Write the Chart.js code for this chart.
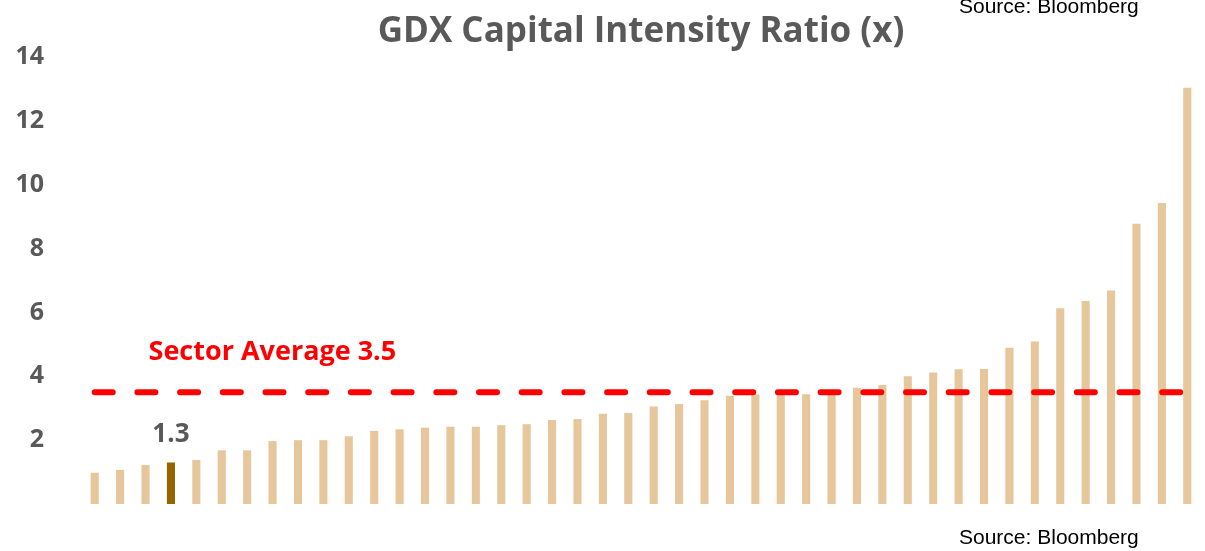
<!DOCTYPE html>
<html>
<head>
<meta charset="utf-8">
<script src="https://cdn.jsdelivr.net/npm/chart.js@4"></script>
<style>
  html, body { margin: 0; padding: 0; background: #fff; }
  #wrap { width: 1205px; height: 551px; position: relative; }
</style>
</head>
<body>
<div id="wrap"><canvas id="gdx-chart"></canvas></div>
<script>
// GDX members ranked by capital intensity ratio (x)
const ratios = [0.98, 1.07, 1.22, 1.3, 1.38, 1.68, 1.68, 1.97, 2.0, 2.0, 2.12, 2.29, 2.34, 2.39, 2.42,
  2.42, 2.47, 2.5, 2.63, 2.66, 2.83, 2.85, 3.05, 3.13, 3.25, 3.39, 3.43, 3.44, 3.44, 3.5,
  3.64, 3.73, 4.0, 4.12, 4.22, 4.23, 4.89, 5.09, 6.13, 6.36, 6.69, 8.78, 9.43, 13.04];
const ranks = ratios.map((_, i) => String(i + 1));
const highlightIndex = 3; // the company called out (1.3)
const sectorAvg = 3.5;
const yMax = 14;
const yStep = 2;

const barColor = "#E6C79C";
const highlightColor = "#956500";
const greyText = "#595959";

// dashed sector average line + annotations
const annotations = {
  id: "annotations",
  afterDatasetsDraw(chart) {
    const { ctx, scales } = chart;
    const x = scales.x, y = scales.y;
    const yAvg = y.getPixelForValue(sectorAvg);

    ctx.save();
    ctx.strokeStyle = "#FF0000";
    ctx.lineWidth = 6;
    ctx.lineCap = "round";
    ctx.setLineDash([18, 24.7]);
    ctx.beginPath();
    ctx.moveTo(x.getPixelForValue(0), yAvg);
    ctx.lineTo(x.getPixelForValue(ratios.length - 1), yAvg);
    ctx.stroke();
    ctx.setLineDash([]);

    ctx.fillStyle = "#FF0000";
    ctx.font = "bold 27px 'Open Sans'";
    ctx.textAlign = "left";
    ctx.textBaseline = "alphabetic";
    ctx.fillText("Sector Average " + sectorAvg.toFixed(1), x.getPixelForValue(2) + 3, y.getPixelForValue(4.5));

    // value label over highlighted bar
    ctx.fillStyle = greyText;
    ctx.font = "bold 26px 'Open Sans'";
    ctx.textAlign = "center";
    ctx.fillText(ratios[highlightIndex].toFixed(1), x.getPixelForValue(highlightIndex), y.getPixelForValue(ratios[highlightIndex]) - 20);

    ctx.fillStyle = "#000";
    ctx.font = "21px 'Liberation Sans'";
    ctx.textAlign = "left";
    ctx.fillText("Source: Bloomberg", 959, 13);
    ctx.fillText("Source: Bloomberg", 959, 544);
    ctx.restore();
  },
};

new Chart(document.getElementById("gdx-chart"), {
  type: "bar",
  data: {
    labels: ranks,
    datasets: [
      {
        label: "Capital Intensity Ratio",
        data: ratios,
        backgroundColor: ratios.map((_, i) => (i === highlightIndex ? highlightColor : barColor)),
        barPercentage: 0.32,
        categoryPercentage: 1,
      },
    ],
  },
  options: {
    responsive: true,
    maintainAspectRatio: false,
    animation: false,
    layout: { padding: { left: 0, right: 5, top: 0, bottom: 47 } },
    scales: {
      x: {
        display: false,
      },
      y: {
        min: 0,
        max: yMax,
        border: { display: false },
        grid: { display: false },
        afterFit: (scale) => {
          scale.width = 82;
        },
        ticks: {
          stepSize: yStep,
          padding: 30,
          color: greyText,
          font: { family: "Open Sans", size: 25, weight: "bold" },
          callback: (v) => (v === 0 ? "" : v),
        },
      },
    },
    plugins: {
      legend: { display: false },
      tooltip: { enabled: false },
      title: {
        display: true,
        fullSize: false,
        text: "GDX Capital Intensity Ratio (x)",
        color: greyText,
        font: { family: "Open Sans", size: 35, weight: "bold" },
        padding: { top: 11, bottom: 4 },
      },
    },
  },
  plugins: [annotations],
});
</script>
</body>
</html>
